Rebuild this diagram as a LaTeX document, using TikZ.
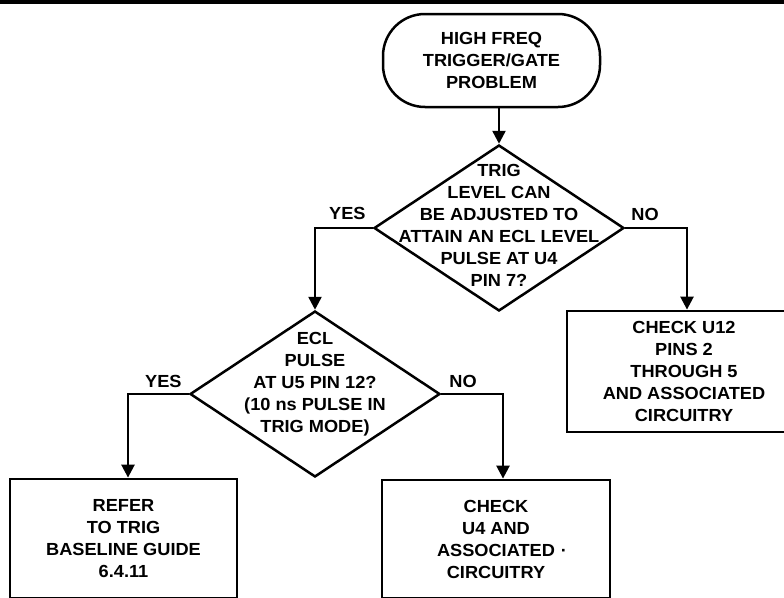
\documentclass[tikz,border=0pt]{standalone}
\usepackage{fontspec}
\setmainfont{Liberation Sans}[FakeStretch=1.04]
\usetikzlibrary{shapes.geometric,arrows.meta}

\tikzset{
  txt/.style={font=\bfseries\fontsize{17.5}{22}\selectfont, align=center, inner sep=0pt},
  terminal/.style={txt, draw, line width=2.5pt, rounded corners=42pt,
    minimum width=217pt, minimum height=93pt},
  decision/.style={draw, diamond, line width=2.5pt, inner sep=0pt,
    minimum width=250pt, minimum height=166pt},
  action/.style={txt, draw, rectangle, line width=2.8pt},
  answer/.style={font=\bfseries\fontsize{17.5}{22}\selectfont, inner sep=0pt},
  flow/.style={line width=2.5pt, -{Triangle[width=13pt,length=13pt]}}
}

\begin{document}
\begin{tikzpicture}[x=1pt,y=-1pt]
  \useasboundingbox (0,0) rectangle (784,597);
  \clip (0,0) rectangle (784,597);

  % heading rule
  \draw[line width=3.5pt] (0,2) -- (784,2);

  % start
  \node[terminal] (start) at (491.5,60.5) {HIGH FREQ\\TRIGGER/GATE\\PROBLEM};

  % first decision
  \node[decision] (d1) at (499,228) {};
  \node[txt] (d1txt) at ([yshift=3pt]d1.center)
    {TRIG\\LEVEL CAN\\BE ADJUSTED TO\\ATTAIN AN ECL LEVEL\\PULSE AT U4\\PIN 7?};

  % second decision
  \node[decision] (d2) at (315,394) {};
  \node[txt] (d2txt) at ([yshift=10pt]d2.center)
    {ECL\\PULSE\\AT U5 PIN 12?\\(10 ns PULSE IN\\TRIG MODE)};

  % actions
  \node[action, minimum width=234pt, minimum height=121pt] (u12) at (684,371.5)
    {CHECK U12\\PINS 2\\THROUGH 5\\AND ASSOCIATED\\CIRCUITRY};
  \node[action, minimum width=227pt, minimum height=119.5pt] (refer) at (123.5,538.75)
    {REFER\\TO TRIG\\BASELINE GUIDE\\6.4.11};
  \node[action, minimum width=228pt, minimum height=118.5pt] (u4) at (496,539.25)
    {CHECK\\U4 AND\\ASSOCIATED\rlap{\,\,·}\\CIRCUITRY};

  % branch labels
  \node[answer, anchor=base east] (y1) at ([shift={(-7,-9)}]d1.west) {YES};
  \node[answer, anchor=base west] (n1) at ([shift={(6,-8)}]d1.east) {NO};
  \node[answer, anchor=base east] (y2) at ([shift={(-7,-7)}]d2.west) {YES};
  \node[answer, anchor=base west] (n2) at ([shift={(8,-7)}]d2.east) {NO};

  % connectors
  \draw[flow] (d1.north |- start.south) -- (d1.north);
  \draw[flow] (d1.west) -| (d2.north);
  \draw[flow] (d1.east) -| ([xshift=3pt]u12.north);
  \draw[flow] (d2.west) -| ([xshift=4.5pt]refer.north);
  \draw[flow] (d2.east) -| ([xshift=7pt]u4.north);
\end{tikzpicture}
\end{document}
